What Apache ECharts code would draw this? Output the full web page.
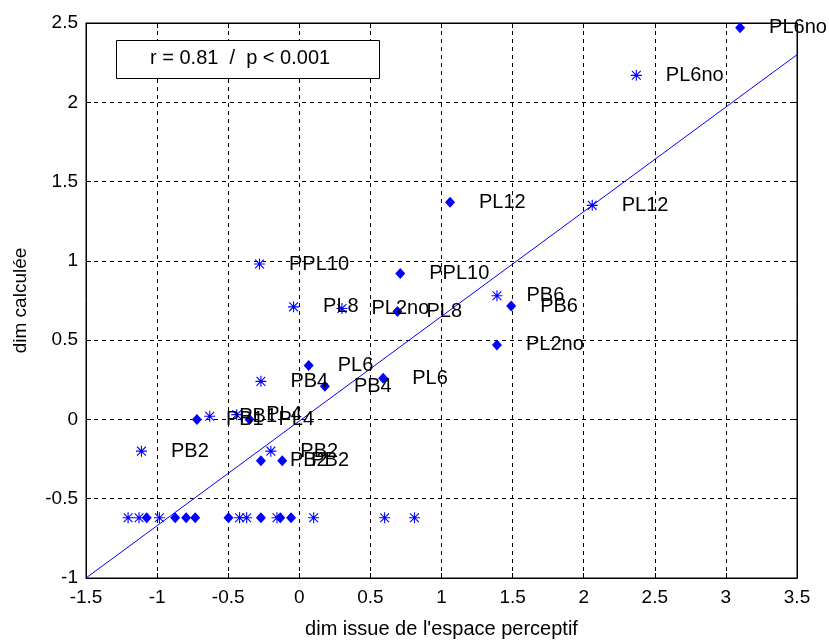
<!DOCTYPE html>
<html>
<head>
<meta charset="utf-8">
<script src="https://cdn.jsdelivr.net/npm/echarts@6/dist/echarts.min.js"></script>
<style>html,body{margin:0;padding:0;background:#fff}#c{width:829px;height:640px}</style>
</head>
<body>
<div id="c"></div>
<script>
// Labelled points, diamond markers
const diamondX = [3.10, 1.06, 0.71, 0.69, 1.49, 1.39, 0.066, 0.59, 0.18, -0.72, -0.35, -0.27, -0.12];
const diamondY = [2.47, 1.37, 0.92, 0.68, 0.715, 0.47, 0.34, 0.26, 0.21, 0.00, 0.00, -0.26, -0.26];
const diamondNames = ['PL6no', 'PL12', 'PPL10', 'PL8', 'PB6', 'PL2no', 'PL6', 'PL6', 'PB4', 'PB1', 'PL4', 'PB2', 'PB2'];
// Labelled points, asterisk markers
const starX = [2.37, 2.06, -0.28, -0.04, 0.30, 1.39, -0.27, -0.63, -0.44, -1.11, -0.20];
const starY = [2.17, 1.35, 0.98, 0.71, 0.70, 0.78, 0.24, 0.02, 0.03, -0.20, -0.20];
const starNames = ['PL6no', 'PL12', 'PPL10', 'PL8', 'PL2no', 'PB6', 'PB4', 'PB1', 'PL4', 'PB2', 'PB2'];
// Unlabelled bottom row
const baseDiamondX = [-1.073, -0.873, -0.796, -0.732, -0.498, -0.270, -0.134, -0.058];
const baseDiamondY = [-0.62, -0.62, -0.62, -0.62, -0.62, -0.62, -0.62, -0.62];
const baseStarX = [-1.204, -1.127, -0.984, -0.42, -0.37, -0.157, 0.101, 0.60, 0.81];
const baseStarY = [-0.62, -0.62, -0.62, -0.62, -0.62, -0.62, -0.62, -0.62, -0.62];
// Regression line end points
const lineX = [-1.5, 3.5];
const lineY = [-1.0, 2.30];
// Axes
const xTicks = [-1.5, -1, -0.5, 0, 0.5, 1, 1.5, 2, 2.5, 3, 3.5];
const yTicks = [-1, -0.5, 0, 0.5, 1, 1.5, 2, 2.5];
const statText = 'r = 0.81  /  p < 0.001';
const xTitle = "dim issue de l'espace perceptif";
const yTitle = 'dim calculée';

const FONT = 'Liberation Sans';
const BLUE = '#0000ff';
const STAR = 'path://M0 9L20 9L20 11L0 11Z M9 0L11 0L11 20L9 20Z M1.3 2.7L2.7 1.3L18.7 17.3L17.3 18.7Z M17.3 1.3L18.7 2.7L2.7 18.7L1.3 17.3Z';

function pts(xs, ys, names) {
  return xs.map((x, i) => names ? { value: [x, ys[i]], name: names[i] } : [x, ys[i]]);
}
function fmt(v) { return String(v); }

const chart = echarts.init(document.getElementById('c'), null, { renderer: 'canvas' });

const labelStyle = {
  show: true, position: 'right', formatter: '{b}',
  color: '#000', fontFamily: FONT, fontSize: 20
};

const axisCommon = {
  type: 'value',
  axisLine: { show: true, onZero: false, lineStyle: { color: '#000', width: 1 } },
  axisTick: { show: true, inside: true, length: 5, lineStyle: { color: '#000' } },
  axisLabel: { color: '#000', fontFamily: FONT, fontSize: 19 }
};

chart.setOption({
  animation: false,
  backgroundColor: '#fff',
  grid: { left: 86, right: 32, top: 23, bottom: 62, show: true, borderColor: '#000', borderWidth: 1,
          containLabel: false, outerBoundsMode: 'none' },
  xAxis: [
    Object.assign({}, axisCommon, {
      min: xTicks[0], max: xTicks[xTicks.length - 1], interval: 0.5, position: 'bottom',
      name: xTitle, nameLocation: 'middle', nameGap: 41,
      nameTextStyle: { color: '#000', fontFamily: FONT, fontSize: 20 },
      axisLabel: Object.assign({}, axisCommon.axisLabel, { margin: 10, formatter: fmt, showMinLabel: true, showMaxLabel: true }),
      splitLine: { show: true, lineStyle: { color: '#000', type: [4, 4], width: 1 } }
    }),
    Object.assign({}, axisCommon, {
      min: xTicks[0], max: xTicks[xTicks.length - 1], interval: 0.5, position: 'top',
      axisLabel: { show: false }, splitLine: { show: false }
    })
  ],
  yAxis: [
    Object.assign({}, axisCommon, {
      min: yTicks[0], max: yTicks[yTicks.length - 1], interval: 0.5, position: 'left',
      name: yTitle, nameLocation: 'middle', nameGap: 56,
      nameTextStyle: { color: '#000', fontFamily: FONT, fontSize: 19 },
      axisLabel: Object.assign({}, axisCommon.axisLabel, { margin: 8, formatter: fmt, showMinLabel: true, showMaxLabel: true }),
      splitLine: { show: true, lineStyle: { color: '#000', type: [4, 4], width: 1 } }
    }),
    Object.assign({}, axisCommon, {
      min: yTicks[0], max: yTicks[yTicks.length - 1], interval: 0.5, position: 'right',
      axisLabel: { show: false }, splitLine: { show: false }
    })
  ],
  series: [
    {
      type: 'line', data: pts(lineX, lineY), showSymbol: false, symbol: 'none',
      lineStyle: { color: BLUE, width: 1 }, silent: true, z: 2
    },
    {
      type: 'scatter', data: pts(diamondX, diamondY, diamondNames), symbol: 'diamond', symbolSize: [10, 11],
      itemStyle: { color: BLUE, opacity: 1 }, label: Object.assign({}, labelStyle, { distance: 24 }), z: 3
    },
    {
      type: 'scatter', data: pts(starX, starY, starNames), symbol: STAR, symbolSize: 11,
      itemStyle: { color: BLUE, opacity: 1 }, label: Object.assign({}, labelStyle, { distance: 24 }), z: 3
    },
    {
      type: 'scatter', data: pts(baseDiamondX, baseDiamondY), symbol: 'diamond', symbolSize: [10, 11],
      itemStyle: { color: BLUE, opacity: 1 }, z: 3
    },
    {
      type: 'scatter', data: pts(baseStarX, baseStarY), symbol: STAR, symbolSize: 11,
      itemStyle: { color: BLUE, opacity: 1 }, z: 3
    }
  ],
  graphic: [
    {
      type: 'rect', left: 116, top: 40, z: 10,
      shape: { width: 263, height: 38 },
      style: { fill: '#fff', stroke: '#000', lineWidth: 1 }
    },
    {
      type: 'text', left: 150, top: 48, z: 11,
      style: { text: statText, fill: '#000', font: '20px "Liberation Sans"' }
    }
  ]
});
</script>
</body>
</html>
